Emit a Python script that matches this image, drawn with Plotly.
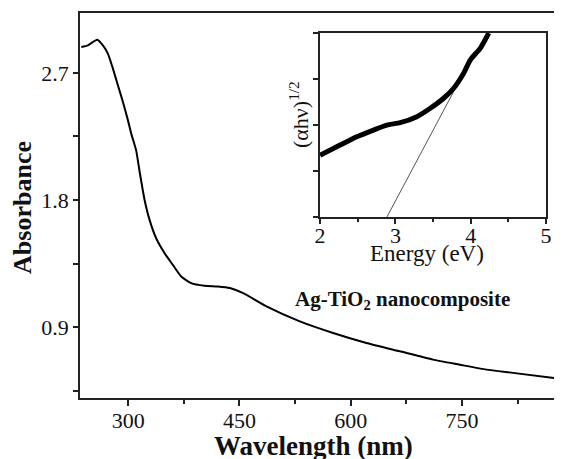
import plotly.graph_objects as go

# Main UV-Vis absorbance spectrum
wavelength = [236.7, 245.7, 258.2, 265.9, 272.6, 279.4, 286.1, 292.9, 299.6, 304.0,
              310.8, 315.4, 322.1, 328.8, 337.7, 349.1, 360.2, 371.4, 384.9,
              403.0, 420.9, 437.1, 455.0, 486.5, 531.4, 576.3, 621.3, 666.2, 711.0,
              747.0, 783.0, 818.9, 884.1]
absorbance = [2.884, 2.896, 2.936, 2.896, 2.837, 2.731, 2.613, 2.495, 2.366, 2.272,
              2.150, 2.000, 1.800, 1.659, 1.529, 1.423, 1.340, 1.258, 1.211,
              1.192, 1.187, 1.176, 1.140, 1.046, 0.940, 0.858, 0.787, 0.728, 0.669,
              0.633, 0.598, 0.575, 0.532]

# Inset Tauc plot
energy = [2.0, 2.266, 2.488, 2.709, 2.887, 3.064, 3.285, 3.463, 3.640, 3.773,
          3.906, 3.995, 4.128, 4.239]
tauc = [1.345, 1.564, 1.745, 1.891, 2.0, 2.051, 2.182, 2.364, 2.582, 2.8,
        3.127, 3.418, 3.673, 4.0]
fit_energy = [2.887, 3.804]
fit_tauc = [0.0, 2.822]

x_ticks = [300, 450, 600, 750]
y_ticks = [0.9, 1.8, 2.7]
inset_x_ticks = [2, 3, 4, 5]

FONT = "Liberation Serif"

fig = go.Figure()
fig.add_trace(go.Scatter(x=wavelength, y=absorbance, mode="lines",
                         line=dict(color="black", width=2, shape="spline", smoothing=0.5),
                         xaxis="x", yaxis="y", showlegend=False))
fig.add_trace(go.Scatter(x=fit_energy, y=fit_tauc, mode="lines",
                         line=dict(color="#555555", width=1),
                         xaxis="x2", yaxis="y2", showlegend=False))
fig.add_trace(go.Scatter(x=energy, y=tauc, mode="lines",
                         line=dict(color="black", width=5, shape="spline", smoothing=0.6),
                         xaxis="x2", yaxis="y2", showlegend=False))

axis_common = dict(showgrid=False, zeroline=False, showline=True, linecolor="#222",
                   linewidth=1.5, ticks="outside", tickcolor="#222", tickwidth=1.5,
                   automargin=False,
                   tickfont=dict(family=FONT, size=22, color="#111"))

fig.update_layout(
    width=554, height=451,
    margin=dict(l=72, r=0, t=5, b=61, autoexpand=False),
    paper_bgcolor="white", plot_bgcolor="white",
    xaxis=dict(**axis_common, domain=[0, 1], range=[235, 885],
               tickvals=x_ticks, ticklen=6, mirror=True, ticklabelstandoff=-4,
               minor=dict(dtick=75, tick0=300, ticklen=4, ticks="outside", tickcolor="#222")),
    yaxis=dict(**axis_common, domain=[0, 1], range=[0.397, 3.125],
               tickvals=y_ticks, ticklen=5,
               minor=dict(dtick=0.45, tick0=0.9, ticklen=5, ticks="outside", tickcolor="#222")),
    xaxis2=dict(**axis_common, domain=[0.498, 0.967], anchor="y2", range=[2, 5],
                tickvals=inset_x_ticks, ticklen=5, mirror=True, ticklabelstandoff=-7,
                minor=dict(dtick=0.5, tick0=2, ticklen=3, ticks="outside", tickcolor="#222")),
    yaxis2=dict(**axis_common, domain=[0.470, 0.948], anchor="x2", range=[0, 4],
                dtick=1, ticklen=5, mirror=True, showticklabels=False),
    annotations=[
        dict(text="<b>Wavelength (nm)</b>", xref="paper", yref="paper",
             x=0.485, y=(398 - 446) / 385, xanchor="center", yanchor="middle", showarrow=False,
             font=dict(family=FONT, size=27, color="#111")),
        dict(text="<b>Absorbance</b>", xref="paper", yref="paper", textangle=-90,
             x=-0.118, y=0.494, xanchor="center", yanchor="middle", showarrow=False,
             font=dict(family=FONT, size=26, color="#111")),
        dict(text="<b>Ag-TiO<sub>2</sub> nanocomposite</b>", xref="paper", yref="paper",
             x=(402 - 80) / 482, y=(398 - 300) / 385, xanchor="center", yanchor="middle",
             showarrow=False, font=dict(family=FONT, size=21, color="#111")),
        dict(text="Energy (eV)", xref="paper", yref="paper",
             x=(427 - 80) / 482, y=(398 - 253) / 385, xanchor="center", yanchor="middle",
             showarrow=False, font=dict(family=FONT, size=23, color="#111")),
        dict(text="(αhν)<sup>1/2</sup>", xref="paper", yref="paper", textangle=-90,
             x=(299 - 80) / 482, y=(398 - 115) / 385, xanchor="center", yanchor="middle",
             showarrow=False, font=dict(family=FONT, size=22, color="#111")),
    ],
)

fig.write_html("out.html")
